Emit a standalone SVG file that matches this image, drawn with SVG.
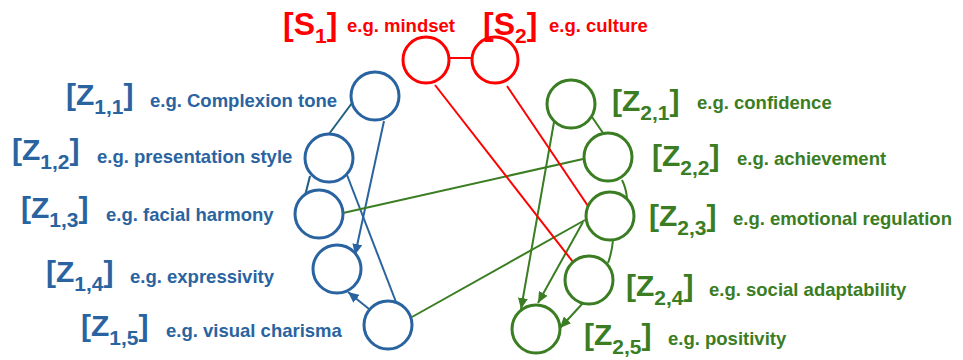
<svg xmlns="http://www.w3.org/2000/svg" width="963" height="360" viewBox="0 0 963 360">
<defs>
<style>
.node{fill:#fff;stroke-width:3}
.r{stroke:#ff0000}.b{stroke:#2a64a0}.g{stroke:#3a7d22}
.c{fill:none;stroke-width:2}
.tr{fill:#ff0000}.tb{fill:#2a64a0}.tg{fill:#3a7d22}
text{font-family:"Liberation Sans",Arial,sans-serif;font-weight:bold}
.big{font-size:30px}
.bigs{font-size:32px}
.sub{font-size:21px}
.eg{font-size:18.5px}
</style>
<marker id="ab" markerUnits="userSpaceOnUse" markerWidth="11" markerHeight="10" refX="11" refY="5" orient="auto"><path d="M0,0 L11,5 L0,10 z" fill="#2a64a0"/></marker>
<marker id="ag" markerUnits="userSpaceOnUse" markerWidth="11" markerHeight="10" refX="11" refY="5" orient="auto"><path d="M0,0 L11,5 L0,10 z" fill="#3a7d22"/></marker>
</defs>
<g id="connectors">
<line class="c r" x1="449" y1="58" x2="472" y2="58"/>
<line class="c" stroke="#215f7e" x1="352" y1="103" x2="329" y2="134"/>
<line class="c" stroke="#215f7e" x1="310" y1="176" x2="305" y2="196"/>
<line class="c b" x1="384" y1="121" x2="355" y2="255" marker-end="url(#ab)"/>
<line class="c b" x1="347" y1="175" x2="396" y2="302"/>
<line class="c b" x1="369" y1="309" x2="348" y2="292" marker-end="url(#ab)"/>
<line class="c g" x1="343" y1="213" x2="583" y2="159"/>
<line class="c g" x1="412" y1="317" x2="585" y2="220"/>
<line class="c g" x1="592" y1="117" x2="603" y2="133"/>
<path class="c g" d="M622,180 Q626,188 627,198"/>
<path class="c g" d="M613,240 Q612,252 608,263"/>
<line class="c g" x1="554" y1="122" x2="521" y2="309" marker-end="url(#ag)"/>
<line class="c g" x1="583" y1="222" x2="538" y2="303" marker-end="url(#ag)"/>
<line class="c g" x1="583" y1="303" x2="560" y2="328" marker-end="url(#ag)"/>
<line class="c r" x1="435" y1="85" x2="573" y2="262"/>
<line class="c r" x1="507" y1="86" x2="588" y2="206"/>
</g>
<g id="S1"><circle class="node r" cx="426" cy="60" r="23"/>
<text class="tr" x="283" y="35"><tspan class="bigs">[S</tspan><tspan class="sub" dy="8">1</tspan><tspan class="bigs" dy="-8">]</tspan></text>
<text class="tr eg" x="347" y="32">e.g. mindset</text></g>
<g id="S2"><circle class="node r" cx="495" cy="60" r="23"/>
<text class="tr" x="483" y="35"><tspan class="bigs">[S</tspan><tspan class="sub" dy="8">2</tspan><tspan class="bigs" dy="-8">]</tspan></text>
<text class="tr eg" x="549" y="32">e.g. culture</text></g>
<g id="Z11"><circle class="node b" cx="375" cy="96" r="24"/>
<text class="tb" x="66" y="105"><tspan class="big">[Z</tspan><tspan class="sub" dy="9">1,1</tspan><tspan class="big" dy="-9">]</tspan></text>
<text class="tb eg" x="150" y="107">e.g. Complexion tone</text></g>
<g id="Z12"><circle class="node b" cx="329" cy="158" r="24"/>
<text class="tb" x="12" y="160"><tspan class="big">[Z</tspan><tspan class="sub" dy="9">1,2</tspan><tspan class="big" dy="-9">]</tspan></text>
<text class="tb eg" x="97" y="163">e.g. presentation style</text></g>
<g id="Z13"><circle class="node b" cx="319" cy="214" r="24"/>
<text class="tb" x="21" y="218"><tspan class="big">[Z</tspan><tspan class="sub" dy="9">1,3</tspan><tspan class="big" dy="-9">]</tspan></text>
<text class="tb eg" x="106" y="221">e.g. facial harmony</text></g>
<g id="Z14"><circle class="node b" cx="337" cy="269" r="24"/>
<text class="tb" x="46" y="282"><tspan class="big">[Z</tspan><tspan class="sub" dy="9">1,4</tspan><tspan class="big" dy="-9">]</tspan></text>
<text class="tb eg" x="130" y="283">e.g. expressivity</text></g>
<g id="Z15"><circle class="node b" cx="388" cy="325" r="24"/>
<text class="tb" x="81" y="336"><tspan class="big">[Z</tspan><tspan class="sub" dy="9">1,5</tspan><tspan class="big" dy="-9">]</tspan></text>
<text class="tb eg" x="166" y="337">e.g. visual charisma</text></g>
<g id="Z21"><circle class="node g" cx="571" cy="104" r="24"/>
<text class="tg" x="612" y="111"><tspan class="big">[Z</tspan><tspan class="sub" dy="9">2,1</tspan><tspan class="big" dy="-9">]</tspan></text>
<text class="tg eg" x="697" y="109">e.g. confidence</text></g>
<g id="Z22"><circle class="node g" cx="608" cy="157" r="24"/>
<text class="tg" x="652" y="166"><tspan class="big">[Z</tspan><tspan class="sub" dy="9">2,2</tspan><tspan class="big" dy="-9">]</tspan></text>
<text class="tg eg" x="737" y="165">e.g. achievement</text></g>
<g id="Z23"><circle class="node g" cx="610" cy="216" r="24"/>
<text class="tg" x="649" y="226"><tspan class="big">[Z</tspan><tspan class="sub" dy="9">2,3</tspan><tspan class="big" dy="-9">]</tspan></text>
<text class="tg eg" x="733" y="225">e.g. emotional regulation</text></g>
<g id="Z24"><circle class="node g" cx="589" cy="280" r="24"/>
<text class="tg" x="626" y="296"><tspan class="big">[Z</tspan><tspan class="sub" dy="9">2,4</tspan><tspan class="big" dy="-9">]</tspan></text>
<text class="tg eg" x="709" y="296">e.g. social adaptability</text></g>
<g id="Z25"><circle class="node g" cx="536" cy="329" r="24"/>
<text class="tg" x="584" y="345"><tspan class="big">[Z</tspan><tspan class="sub" dy="9">2,5</tspan><tspan class="big" dy="-9">]</tspan></text>
<text class="tg eg" x="668" y="345">e.g. positivity</text></g>
</svg>
